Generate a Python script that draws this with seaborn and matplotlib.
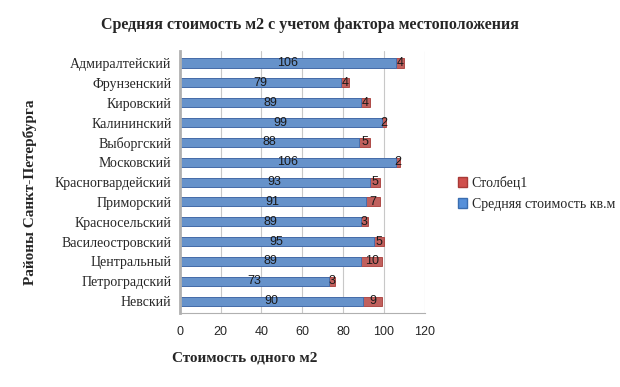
import numpy as np
import pandas as pd
import seaborn as sns
import matplotlib.pyplot as plt
from matplotlib.patches import Patch

districts = ["Адмиралтейский", "Фрунзенский", "Кировский", "Калининский",
             "Выборгский", "Московский", "Красногвардейский", "Приморский",
             "Красносельский", "Василеостровский", "Центральный",
             "Петроградский", "Невский"]
avg_cost = [106, 79, 89, 99, 88, 106, 93, 91, 89, 95, 89, 73, 90]
col1 = [4, 4, 4, 2, 5, 2, 5, 7, 3, 5, 10, 3, 9]

blue = "#5690DA"
red = "#D0504D"

df = pd.DataFrame({"district": districts, "avg": avg_cost, "col1": col1})
df["total"] = df["avg"] + df["col1"]

sns.set_style("white")
plt.rcParams['font.family'] = ['Liberation Serif', 'DejaVu Serif']

fig = plt.figure(figsize=(6.2, 3.87), dpi=100)
ax = fig.add_axes([0.290, 0.191, 0.395, 0.677])

sns.barplot(data=df, y="district", x="total", color=red, orient="h",
            width=0.46, edgecolor="#A83A37", linewidth=0.6, ax=ax)
sns.barplot(data=df, y="district", x="avg", color=blue, orient="h",
            width=0.46, edgecolor="#3A6DB0", linewidth=0.6, ax=ax)

for i, row in df.iterrows():
    ax.text(row["avg"] / 2, i, str(row["avg"]), ha="center", va="center",
            fontsize=9, family="Liberation Sans", color="#1a1a1a")
    ax.text(row["avg"] + row["col1"] / 2, i, str(row["col1"]), ha="center",
            va="center", fontsize=9, family="Liberation Sans", color="#1a1a1a")

ax.set_xlim(0, 120)
ax.set_ylim(12.6, -0.6)
ax.set_xticks(np.arange(0, 121, 20))
ax.tick_params(axis="x", labelsize=9, length=0, pad=9)
for lab in ax.get_xticklabels():
    lab.set_family("Liberation Sans")
ax.tick_params(axis="y", labelsize=10, length=0, pad=6)
ax.xaxis.grid(True, color="#C8C8C8", linewidth=0.8)
ax.set_axisbelow(True)
for s in ["top", "right"]:
    ax.spines[s].set_visible(False)
ax.spines["left"].set_color("#B0B0B0")
ax.spines["left"].set_linewidth(2)
ax.spines["bottom"].set_color("#B0B0B0")
ax.set_xlabel("")
ax.set_ylabel("")

fig.text(245 / 620, 1 - 358 / 387, "Стоимость одного м2", fontsize=11,
         fontweight="bold", ha="center", va="center")
fig.text(30 / 620, 1 - 192 / 387, "Районы Санкт-Петербурга", fontsize=11,
         fontweight="bold", ha="center", va="center", rotation=90)
fig.text(310 / 620, 1 - 25 / 387,
         "Средняя стоимость м2 с учетом фактора местоположения",
         fontsize=11.5, fontweight="bold", ha="center", va="center")

handles = [Patch(facecolor=red, edgecolor="#A83A37"),
           Patch(facecolor=blue, edgecolor="#3A6DB0")]
fig.legend(handles, ["Столбец1", "Средняя стоимость кв.м"], loc="center left",
           bbox_to_anchor=(0.718, 0.50), frameon=False, fontsize=10,
           handlelength=0.7, handleheight=0.7, handletextpad=0.3, labelspacing=0.6)

fig.savefig("out.png", dpi=100)
